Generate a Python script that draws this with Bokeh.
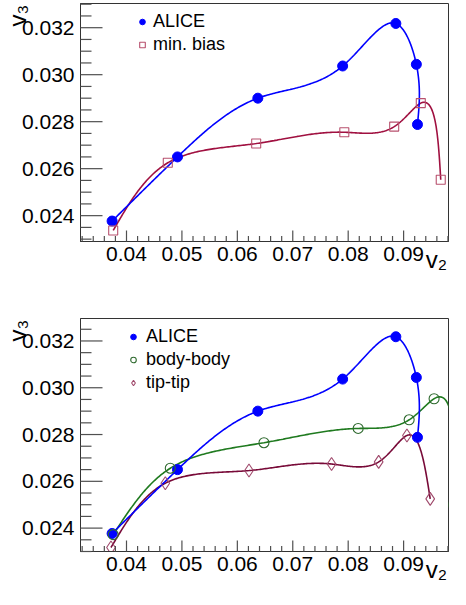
import numpy as np
from bokeh.plotting import figure
from bokeh.layouts import column
from bokeh.models import (Range1d, SingleIntervalTicker, PrintfTickFormatter,
                          Legend, LegendItem, LinearAxis)
from bokeh.embed import file_html
from bokeh.resources import INLINE

# ---------------- data ----------------
alice_v2 = [0.0374, 0.0492, 0.0637, 0.0790, 0.0886, 0.0923, 0.0925]
alice_v3 = [0.02377, 0.02650, 0.02900, 0.03037, 0.03218, 0.03044, 0.02788]

minbias_v2 = [0.0376, 0.04745, 0.0634, 0.0793, 0.0883, 0.0931, 0.0967]
minbias_v3 = [0.02337, 0.02625, 0.02707, 0.02755, 0.02779, 0.02879, 0.02553]

bodybody_v2 = [0.0376, 0.0479, 0.0648, 0.0818, 0.0910, 0.0955, 0.0990]
bodybody_v3 = [0.02372, 0.02656, 0.02765, 0.02826, 0.02863, 0.02953, 0.0250]

tiptip_v2 = [0.0372, 0.0470, 0.0621, 0.0770, 0.0855, 0.0906, 0.0948]
tiptip_v3 = [0.02317, 0.02592, 0.02646, 0.02674, 0.02683, 0.02796, 0.02525]

x_major_ticks = [0.04, 0.05, 0.06, 0.07, 0.08, 0.09]
y_major_ticks = [0.024, 0.026, 0.028, 0.030, 0.032]
x_minor_step = 0.002
y_minor_step = 0.0005

x_label = "v\u2082\u2003"
y_label = "v\u2083\u2003"

x_range_vals = (0.0317, 0.0981)
y_range_top = (0.0229, 0.03303)
y_range_bottom = (0.0230, 0.03296)

FONT = "Arial"
LEFT = 80
FRAME_W = 450 - LEFT - 2
FRAME_H1 = 238
FRAME_H2 = 233
TICK_COLOR = "#505050"

BLUE = "#0000ff"
MB_LINE, MB_MARK = "#a01040", "#b8506e"
BB_LINE, BB_MARK = "#1f7a1f", "#2f6a2f"
TT_LINE, TT_MARK = "#780a38", "#a04a6c"


def smooth_curve(xs, ys, xr, yr, fh, n=60):
    """Parametric natural cubic spline through the points (normalised coords)."""
    px = (np.asarray(xs) - xr[0]) / (xr[1] - xr[0]) * FRAME_W
    py = (np.asarray(ys) - yr[0]) / (yr[1] - yr[0]) * fh
    t = np.concatenate([[0.0], np.cumsum(np.hypot(np.diff(px), np.diff(py)))])

    def second_derivs(v):
        m = len(t)
        hh = np.diff(t)
        A = np.zeros((m, m))
        b = np.zeros(m)
        A[0, 0] = 1.0
        A[-1, -1] = 1.0
        for i in range(1, m - 1):
            A[i, i - 1] = hh[i - 1]
            A[i, i] = 2 * (hh[i - 1] + hh[i])
            A[i, i + 1] = hh[i]
            b[i] = 6 * ((v[i + 1] - v[i]) / hh[i] - (v[i] - v[i - 1]) / hh[i - 1])
        return np.linalg.solve(A, b)

    Mx, My = second_derivs(px), second_derivs(py)
    ox, oy = [], []
    for i in range(len(t) - 1):
        hh = t[i + 1] - t[i]
        s = np.linspace(0, hh, n, endpoint=(i == len(t) - 2))
        a = (hh - s) / hh
        bb = s / hh
        for v, M, out in ((px, Mx, ox), (py, My, oy)):
            val = a * v[i] + bb * v[i + 1] + ((a ** 3 - a) * M[i] + (bb ** 3 - bb) * M[i + 1]) * hh * hh / 6
            out.extend(val)
    cx = np.array(ox) / FRAME_W * (xr[1] - xr[0]) + xr[0]
    cy = np.array(oy) / fh * (yr[1] - yr[0]) + yr[0]
    return cx, cy


HAS_ALIGN = "axis_label_align" in LinearAxis.properties()


def make_fig(height, yr, border_top, border_bottom):
    p = figure(width=450, height=height,
               x_range=Range1d(*x_range_vals), y_range=Range1d(*yr),
               output_backend="svg", toolbar_location=None,
               min_border_left=LEFT, min_border_right=2,
               min_border_top=border_top, min_border_bottom=border_bottom)
    p.grid.visible = False
    p.outline_line_color = "#333333"
    p.outline_line_width = 1
    p.background_fill_color = "white"
    p.border_fill_color = "white"

    xa = p.xaxis[0]
    xa.ticker = SingleIntervalTicker(interval=0.01, num_minor_ticks=5)
    xa.formatter = PrintfTickFormatter(format="%.2f")
    xa.major_label_standoff = 5

    ya = p.yaxis[0]
    ya.ticker = SingleIntervalTicker(interval=0.002, num_minor_ticks=4)
    ya.formatter = PrintfTickFormatter(format="%.3f")
    ya.major_label_standoff = 6

    for ax in (xa, ya):
        ax.major_tick_in = 0
        ax.major_tick_out = 0
        ax.minor_tick_in = 0
        ax.minor_tick_out = 0
        ax.major_tick_line_color = None
        ax.minor_tick_line_color = None
        ax.axis_line_color = "#333333"
        ax.major_label_text_font = FONT
        ax.major_label_text_font_size = "21px"
        ax.major_label_text_color = "black"
        ax.axis_label_text_font = FONT
        ax.axis_label_text_font_style = "normal"
        ax.axis_label_text_color = "black"

    xa.axis_label = x_label
    xa.axis_label_text_font_size = "24px"
    xa.axis_label_standoff = -18
    ya.axis_label = y_label
    ya.axis_label_text_font_size = "24px"
    ya.axis_label_standoff = -12
    if HAS_ALIGN:
        xa.axis_label_align = "end"
        ya.axis_label_align = "end"
    return p


def add_ticks(p, yr, fh):
    """ROOT-style inward ticks, drawn last so nothing paints over them."""
    xr = x_range_vals
    xmin, ymin = xr[0], yr[0]
    px_x = (xr[1] - xr[0]) / FRAME_W
    px_y = (yr[1] - yr[0]) / fh
    x_minor = [float(v) for v in np.arange(0.032, xr[1], x_minor_step)
               if min(abs(v - m) for m in x_major_ticks) > 1e-6]
    y_minor = [float(v) for v in np.arange(0.023, yr[1], y_minor_step)
               if min(abs(v - m) for m in y_major_ticks) > 1e-6]
    kw = dict(line_color=TICK_COLOR, line_width=1.2, level="overlay")
    p.segment(x0=x_major_ticks, y0=[ymin] * len(x_major_ticks),
              x1=x_major_ticks, y1=[ymin + 11 * px_y] * len(x_major_ticks), **kw)
    p.segment(x0=x_minor, y0=[ymin] * len(x_minor),
              x1=x_minor, y1=[ymin + 5.5 * px_y] * len(x_minor), **kw)
    p.segment(x0=[xmin] * len(y_major_ticks), y0=y_major_ticks,
              x1=[xmin + 22 * px_x] * len(y_major_ticks), y1=y_major_ticks, **kw)
    p.segment(x0=[xmin] * len(y_minor), y0=y_minor,
              x1=[xmin + 11 * px_x] * len(y_minor), y1=y_minor, **kw)


def style_legend(items, loc, standoff):
    return Legend(items=items, location=loc, padding=0, margin=0, spacing=0,
                  glyph_width=14, glyph_height=23, label_height=23,
                  label_standoff=standoff, border_line_color=None,
                  background_fill_alpha=0,
                  label_text_font=FONT, label_text_font_size="18px",
                  label_text_color="black")


# ---------------- top panel ----------------
p1 = make_fig(3 + FRAME_H1 + 74, y_range_top, 3, 74)

cx, cy = smooth_curve(minbias_v2, minbias_v3, x_range_vals, y_range_top, FRAME_H1)
p1.line(cx, cy, line_color=MB_LINE, line_width=1.6)
cx, cy = smooth_curve(alice_v2, alice_v3, x_range_vals, y_range_top, FRAME_H1)
p1.line(cx, cy, line_color=BLUE, line_width=1.6)

r_alice1 = p1.scatter(alice_v2, alice_v3, marker="circle", size=10,
                      fill_color=BLUE, line_color=BLUE)
r_mb = p1.scatter(minbias_v2, minbias_v3, marker="square", size=9,
                  fill_color=None, line_color=MB_MARK, line_width=1.1)

p1.add_layout(style_legend([LegendItem(label="ALICE", renderers=[r_alice1]),
                            LegendItem(label="min. bias", renderers=[r_mb])],
                           (55, FRAME_H1 - 6.5 - 46), 4))
add_ticks(p1, y_range_top, FRAME_H1)

# ---------------- bottom panel ----------------
p2 = make_fig(3 + FRAME_H2 + 38, y_range_bottom, 3, 38)

cx, cy = smooth_curve(tiptip_v2, tiptip_v3, x_range_vals, y_range_bottom, FRAME_H2)
p2.line(cx, cy, line_color=TT_LINE, line_width=1.6)
cx, cy = smooth_curve(bodybody_v2, bodybody_v3, x_range_vals, y_range_bottom, FRAME_H2)
p2.line(cx, cy, line_color=BB_LINE, line_width=1.6)
cx, cy = smooth_curve(alice_v2, alice_v3, x_range_vals, y_range_bottom, FRAME_H2)
p2.line(cx, cy, line_color=BLUE, line_width=1.6)

r_alice2 = p2.scatter(alice_v2, alice_v3, marker="circle", size=10,
                      fill_color=BLUE, line_color=BLUE)
r_bb = p2.scatter(bodybody_v2, bodybody_v3, marker="circle", size=10,
                  fill_color=None, line_color=BB_MARK, line_width=1.1)
r_tt = p2.scatter(tiptip_v2, tiptip_v3, marker="diamond", size=13,
                  fill_color=None, line_color=TT_MARK, line_width=1.1)

p2.add_layout(style_legend([LegendItem(label="ALICE", renderers=[r_alice2]),
                            LegendItem(label="body-body", renderers=[r_bb]),
                            LegendItem(label="tip-tip", renderers=[r_tt])],
                           (46, FRAME_H2 - 7 - 69), 6))
add_ticks(p2, y_range_bottom, FRAME_H2)

layout = column(p1, p2, spacing=0)
open("out.html", "w").write(file_html(layout, INLINE))
